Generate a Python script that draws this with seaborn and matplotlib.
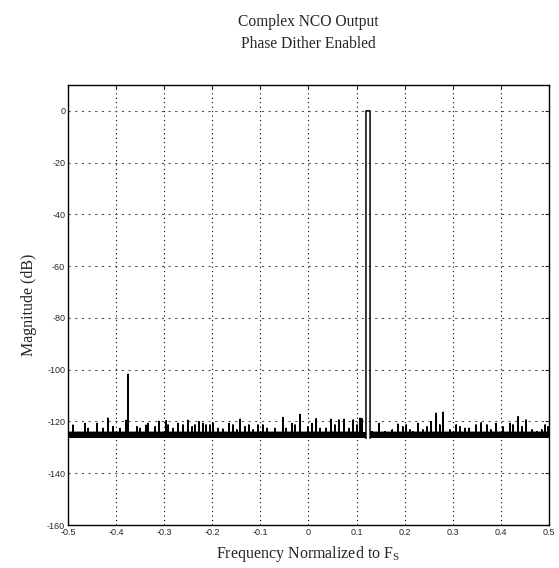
import numpy as np
import pandas as pd
import matplotlib
matplotlib.use("Agg")
import matplotlib.pyplot as plt
import seaborn as sns

# dense noise floor of the trace (dB)
floor_lo = -126.5
floor_hi = -124.2

# carrier: two neighbouring bins at full scale
tone_freqs = [0.1195, 0.1280]
tone_db = [0.0, 0.0]

# spurs that stick out of the floor
spur_freqs = [
    -0.490, -0.465, -0.458, -0.440, -0.427, -0.417, -0.406, -0.392, -0.379, -0.375,
    -0.357, -0.350, -0.338, -0.334, -0.319, -0.311, -0.296, -0.292, -0.282, -0.271,
    -0.261, -0.251, -0.242, -0.236, -0.228, -0.219, -0.213, -0.205, -0.199, -0.188,
    -0.178, -0.165, -0.157, -0.149, -0.142, -0.132, -0.124, -0.115, -0.105, -0.095,
    -0.086, -0.070, -0.053, -0.047, -0.034, -0.028, -0.018, -0.001, 0.007, 0.016,
    0.024, 0.036, 0.047, 0.055, 0.063, 0.074, 0.084, 0.093, 0.101, 0.107,
    0.111, 0.132, 0.147, 0.159, 0.174, 0.186, 0.196, 0.203, 0.211, 0.217,
    0.228, 0.238, 0.246, 0.255, 0.265, 0.273, 0.280, 0.294, 0.307, 0.315,
    0.325, 0.334, 0.348, 0.359, 0.371, 0.379, 0.390, 0.404, 0.419, 0.425,
    0.436, 0.444, 0.452, 0.465, 0.475, 0.485, 0.492, 0.498,
]
spur_db = [
    -121.5, -120.8, -122.7, -120.8, -122.7, -118.8, -122.0, -122.7, -119.6, -101.8,
    -122.0, -122.7, -121.5, -120.8, -122.1, -120.0, -119.8, -121.4, -122.7, -120.8,
    -121.4, -119.6, -122.1, -121.4, -120.1, -120.8, -121.4, -121.4, -120.6, -122.7,
    -123.0, -120.8, -121.4, -123.3, -119.2, -122.1, -121.4, -123.3, -121.4, -121.4,
    -122.7, -122.7, -118.5, -122.7, -120.8, -121.4, -117.3, -122.1, -120.8, -119.0,
    -122.7, -122.7, -119.2, -121.4, -119.5, -119.2, -122.7, -119.5, -121.4, -118.8,
    -119.0, -124.0, -120.8, -124.0, -123.3, -121.1, -122.1, -121.4, -123.3, -124.0,
    -120.8, -123.3, -122.1, -120.1, -116.9, -121.4, -116.5, -123.3, -121.4, -122.1,
    -122.7, -122.7, -121.4, -120.6, -121.4, -123.3, -120.8, -122.1, -120.8, -121.4,
    -118.2, -122.1, -119.5, -123.3, -124.0, -123.3, -121.4, -122.1,
]

x_ticks = [-0.5, -0.4, -0.3, -0.2, -0.1, 0, 0.1, 0.2, 0.3, 0.4, 0.5]
x_labels = ["-0.5", "-0.4", "-0.3", "-0.2", "-0.1", "0", "0.1", "0.2", "0.3", "0.4", "0.5"]
y_ticks = [-160, -140, -120, -100, -80, -60, -40, -20, 0]


def build_trace():
    """Walk the spurs and the carrier in frequency order, one line through all of them."""
    events = [(f, "spur", d) for f, d in zip(spur_freqs, spur_db)]
    events.append((tone_freqs[0], "tone", None))
    events.sort(key=lambda e: e[0])
    rows = [(-0.5, floor_hi)]
    for f, kind, d in events:
        if kind == "spur":
            rows += [(f, floor_hi), (f, d), (f, floor_hi)]
        else:
            rows += [(tone_freqs[0], floor_lo), (tone_freqs[0], tone_db[0]),
                     (tone_freqs[1], tone_db[1]), (tone_freqs[1], floor_lo)]
    rows.append((0.5, floor_hi))
    return pd.DataFrame(rows, columns=["freq", "db"])


sns.set_style("white")
plt.rcParams["font.family"] = ["Liberation Serif", "DejaVu Serif"]
plt.rcParams["axes.unicode_minus"] = False

fig = plt.figure(figsize=(5.59, 5.68), dpi=100)
ax = fig.add_axes([0.1216, 0.0757, 0.8605, 0.7746])

trace = build_trace()
sns.lineplot(data=trace, x="freq", y="db", sort=False, estimator=None,
             color="black", lw=1.1, ax=ax)

# the dense floor, broken where the carrier bins sit
ax.fill_between([-0.5, tone_freqs[0]], floor_lo, floor_hi, color="black", lw=0)
ax.fill_between([tone_freqs[1], 0.5], floor_lo, floor_hi, color="black", lw=0)

ax.set_xlim(-0.5, 0.5)
ax.set_ylim(-160, 10)
ax.set_xticks(x_ticks)
ax.set_xticklabels(x_labels)
ax.set_yticks(y_ticks)
ax.set_yticklabels([str(v) for v in y_ticks])
ax.tick_params(direction="in", length=3, width=0.8, labelsize=6.5, pad=2,
               top=True, right=True)
for lab in ax.get_xticklabels() + ax.get_yticklabels():
    lab.set_family("Liberation Sans")

for x in x_ticks[1:-1]:
    ax.axvline(x, color="black", lw=0.8, ls=(0, (1, 3)), zorder=0)
for y in y_ticks[1:]:
    ax.axhline(y, color="#555555", lw=0.8, ls=(0, (2, 4)), zorder=0)

for sp in ax.spines.values():
    sp.set_color("black")
    sp.set_linewidth(1.0)

ax.set_xlabel(r"Frequency Normalized to $\mathregular{F_S}$", fontsize=11.5, labelpad=5)
ax.set_ylabel("Magnitude (dB)", fontsize=11.5, labelpad=7)
fig.text(0.551, 0.962, "Complex NCO Output", ha="center", va="center", fontsize=11.2)
fig.text(0.551, 0.922, "Phase Dither Enabled", ha="center", va="center", fontsize=11.2)

fig.savefig("out.png", dpi=100)
plt.close(fig)
